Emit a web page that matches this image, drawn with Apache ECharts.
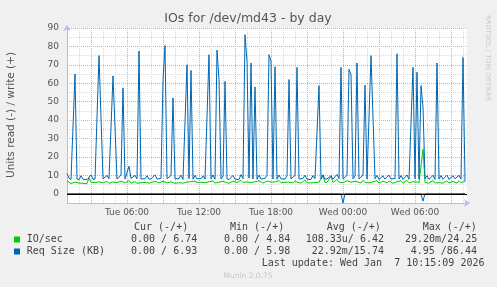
<!DOCTYPE html>
<html><head><meta charset="utf-8">
<script src="https://cdn.jsdelivr.net/npm/echarts@6/dist/echarts.min.js"></script>
<style>html,body{margin:0;padding:0;background:#f0f0f0;}#c{width:497px;height:287px;}</style>
</head><body><div id="c"></div>
<script>
// time axis in hours since Tue 00:00; one sample every 10 minutes starting Tue 01:00
const startHour = 1;
const stepHours = 1 / 6;
const axisMinHour = 1;
const axisMaxHour = 34.3333;

// IO/sec, write (+)
const ioWrite = [
  7, 6.1, 5.6, 5.9, 6.3, 5.5, 5.8, 6.8, 5.7, 6,
  5.5, 8.8, 6.2, 5.8, 6.1, 5.4, 6.5, 6.2, 5.9, 6.3,
  6.8, 5.7, 6, 6.4, 5.8, 6.1, 5.6, 6.9, 6.2, 5.9,
  6, 7.2, 5.8, 6.1, 6.6, 5.7, 6.3, 6, 5.5, 6.2,
  6.7, 5.8, 6.1, 5.6, 6.9, 6, 5.9, 6.4, 6.8, 6.2,
  5.9, 6, 6.5, 6.3, 5.7, 6.1, 6, 6.8, 5.8, 6.2,
  6.4, 6, 6.6, 5.7, 6.9, 6.1, 5.8, 6.3, 6.7, 6,
  5.9, 6.5, 6.2, 7, 5.8, 6.4, 6.3, 6, 6.8, 6.2,
  6, 5.7, 6.2, 6.9, 5.9, 6.1, 6, 7.3, 6.2, 6.6,
  6.4, 6.3, 6.1, 5.9, 6.5, 6, 7.1, 6.2, 5.8, 6.3,
  6.9, 6.5, 6.3, 6, 6.4, 5.9, 7.2, 6.1, 6, 6.2,
  6.8, 6.3, 6, 5.9, 7, 6.4, 6.1, 5.8, 6.3, 7.5,
  6, 6.2, 5.9, 6.8, 6.1, 5.8, 6.3, 8, 10, 6.1,
  6.2, 5.9, 9.5, 6.1, 6, 7.8, 6.3, 6.5, 6, 6.2,
  7.1, 6.4, 6.3, 6.1, 6.8, 6.5, 6, 5.9, 7.3, 6.2,
  6.1, 5.9, 6.6, 6.5, 6.2, 7.2, 5.8, 6.1, 6.9, 6,
  5.9, 7, 6.1, 5.7, 6.2, 6.6, 6, 7.1, 5.8, 6.1,
  7.3, 6, 6.2, 6.5, 6.1, 6.4, 6, 6.3, 24.25, 6.1,
  6.9, 5.8, 6.1, 7.2, 5.9, 6.4, 6, 6.8, 5.8, 6.1,
  7, 5.9, 6.1, 6.7, 6.2, 5.8, 7.1, 6, 6.5, 6.74
];
// Req Size (KB), write (+)
const reqWrite = [
  11, 8.5, 7.8, 8.2, 65, 8, 7.6, 9.8, 7.9, 8.1,
  7.7, 8.3, 10.2, 7.9, 8, 7.8, 75, 74, 8.1, 7.7,
  9.9, 8.2, 7.8, 64, 63, 8, 7.6, 10.1, 57.5, 8,
  7.8, 15, 8.3, 7.9, 10, 8.1, 77.5, 8, 7.7, 8.2,
  9.8, 7.9, 8.1, 7.6, 10.3, 8, 7.8, 8.4, 61.5, 80.5,
  8.2, 7.7, 9.9, 52, 8, 7.9, 8.3, 10.1, 7.8, 8,
  70, 8.2, 67, 7.9, 10, 8.1, 7.7, 8.3, 9.7, 8,
  7.8, 75.5, 8.1, 10.2, 7.9, 78, 62, 8, 9.8, 61,
  8.1, 7.7, 8.3, 10, 7.9, 8, 7.8, 10.4, 8.2, 86.4,
  72, 8.5, 71, 8, 58, 7.9, 10.1, 8, 7.8, 8.3,
  9.9, 75.5, 72, 8, 69, 7.9, 10.2, 8.1, 7.8, 8,
  9.7, 62, 8.1, 7.9, 10, 68.6, 8, 7.7, 8.3, 10.1,
  7.9, 8, 7.8, 9.9, 8.2, 7.7, 58.7, 8, 10.3, 7.9,
  8.1, 7.8, 9.8, 8, 7.9, 10.5, 8.2, 68.6, 8, 7.9,
  10, 67.6, 64.8, 8.1, 9.9, 71, 8, 7.8, 10.2, 59,
  8, 7.9, 75, 75, 8.2, 10, 7.8, 8.1, 9.7, 8,
  7.9, 10.1, 8, 7.7, 8.3, 76, 8, 9.9, 7.8, 8.1,
  10.2, 7.9, 8, 68.6, 8.2, 66, 8, 58.7, 47, 8.1,
  9.8, 7.9, 8.2, 10, 7.8, 71, 8, 9.9, 7.9, 8.1,
  10.1, 7.8, 8, 9.8, 8.2, 7.9, 10, 8, 74, 6.93
];
// read (-) series: [sample index, value]
const ioRead = [[0, 0], [199, 0]];
const reqRead = [[0, 0], [137, 0], [138, -4.95], [139, 0], [177, 0], [178, -4], [179, 0], [199, 0]];

const xLabelHours = [6, 12, 18, 24, 30];
const xLabelTexts = ['Tue 06:00', 'Tue 12:00', 'Tue 18:00', 'Wed 00:00', 'Wed 06:00'];
const yLabelValues = [0, 10, 20, 30, 40, 50, 60, 70, 80, 90];

const legendNames = ['IO/sec', 'Req Size (KB)'];
const legendColors = ['#00cc00', '#0066b3'];
const statHeaders = ['Cur (-/+)', 'Min (-/+)', 'Avg (-/+)', 'Max (-/+)'];
const ioStats = ['0.00 / 6.74', '0.00 / 4.84', '108.33u/ 6.42', '29.20m/24.25'];
const reqStats = ['0.00 / 6.93', '0.00 / 5.98', '22.92m/15.74', '4.95 /86.44'];
const lastUpdate = 'Last update: Wed Jan  7 10:15:09 2026';

const toXY = arr => arr.map((v, j) => [startHour + j * stepHours, v]);
const pairXY = arr => arr.map(p => [startHour + p[0] * stepHours, p[1]]);

const GRAY = '#d9d9d9', RED = '#eba4a4', AXIS = '#b4bcf0';
const mono = '10px "DejaVu Sans Mono"';
const TXT = '#444';

const graphic = [];
graphic.push({type: 'text', x: 248, y: 19, style: {text: 'IOs for /dev/md43 - by day', font: '12.5px "DejaVu Sans"', fill: '#555', align: 'center', verticalAlign: 'middle'}});
graphic.push({type: 'text', x: 11, y: 115, rotation: Math.PI / 2, style: {text: 'Units read (-) / write (+)', font: '10.5px "DejaVu Sans"', fill: '#555', align: 'center', verticalAlign: 'middle'}});
graphic.push({type: 'text', x: 488, y: 15, rotation: -Math.PI / 2, style: {text: 'RRDTOOL / TOBI OETIKER', font: '6.7px "DejaVu Sans"', fill: '#c8c8c8', align: 'left', verticalAlign: 'middle'}});
const hdrX = [134, 230, 326.7, 422.7];
statHeaders.forEach((t, i) => graphic.push({type: 'text', x: hdrX[i], y: 227.5, style: {text: t, font: mono, fill: TXT, verticalAlign: 'middle'}}));
const rowY = [239.5, 251.5];
const statRows = [ioStats, reqStats];
const statX = [[131, 224, 305.7, 405], [131, 224, 311.7, 410.7]];
legendNames.forEach((n, r) => {
  graphic.push({type: 'rect', shape: {x: 14, y: rowY[r] - 3, width: 6, height: 6}, style: {fill: legendColors[r]}});
  graphic.push({type: 'text', x: 26.7, y: rowY[r], style: {text: n, font: mono, fill: TXT, verticalAlign: 'middle'}});
  statRows[r].forEach((t, i) => graphic.push({type: 'text', x: statX[r][i], y: rowY[r], style: {text: t, font: mono, fill: TXT, verticalAlign: 'middle'}}));
});
graphic.push({type: 'text', x: 261.7, y: 263.5, style: {text: lastUpdate, font: mono, fill: TXT, verticalAlign: 'middle'}});
graphic.push({type: 'text', x: 248, y: 276.5, style: {text: 'Munin 2.0.75', font: '7.5px "DejaVu Sans"', fill: '#c8c8c8', align: 'center', verticalAlign: 'middle'}});

const chart = echarts.init(document.getElementById('c'), null, {renderer: 'canvas'});
chart.setOption({
  animation: false,
  backgroundColor: '#f0f0f0',
  grid: {left: 67, top: 28, width: 400, height: 175, show: true, backgroundColor: '#ffffff', borderWidth: 0},
  xAxis: {
    type: 'value', min: axisMinHour, max: axisMaxHour, interval: 1,
    axisLine: {show: true, onZero: false, lineStyle: {color: AXIS, width: 1}, symbol: ['none', 'arrow'], symbolSize: [6, 6], symbolOffset: [0, 3]},
    axisTick: {show: false},
    axisLabel: {
      margin: 5, color: '#555', fontSize: 9, fontFamily: 'DejaVu Sans',
      showMinLabel: false, showMaxLabel: false,
      formatter: v => { const k = xLabelHours.indexOf(Math.round(v)); return (k >= 0 && Math.abs(v - Math.round(v)) < 1e-6) ? xLabelTexts[k] : ''; }
    },
    splitLine: {show: true, showMaxLine: false, lineStyle: {color: [GRAY, GRAY, RED], type: [1, 1], width: 1}}
  },
  yAxis: {
    type: 'value', min: -5, max: 90, interval: 5,
    axisLine: {show: true, lineStyle: {color: AXIS, width: 1}, symbol: ['none', 'arrow'], symbolSize: [6, 6], symbolOffset: [0, 3]},
    axisTick: {show: false},
    axisLabel: {margin: 8, color: '#555', fontSize: 9, fontFamily: 'DejaVu Sans',
      formatter: v => yLabelValues.indexOf(v) >= 0 ? String(v) : ''},
    splitLine: {show: true, lineStyle: {color: [GRAY, RED], type: [1, 1], width: 1}}
  },
  graphic: graphic,
  series: [
    {name: 'IO/sec read', type: 'line', data: pairXY(ioRead), showSymbol: false, lineStyle: {color: legendColors[0], width: 1}, silent: true},
    {name: 'IO/sec', type: 'line', data: toXY(ioWrite), showSymbol: false, lineStyle: {color: legendColors[0], width: 1}, silent: true},
    {name: 'Req Size read', type: 'line', data: pairXY(reqRead), showSymbol: false, lineStyle: {color: legendColors[1], width: 1}, silent: true},
    {name: 'Req Size (KB)', type: 'line', data: toXY(reqWrite), showSymbol: false, lineStyle: {color: legendColors[1], width: 1}, silent: true,
      markLine: {silent: true, symbol: ['none', 'none'], label: {show: false}, lineStyle: {color: '#000', type: 'solid', width: 1}, data: [{yAxis: 0}]}}
  ]
});
</script></body></html>
